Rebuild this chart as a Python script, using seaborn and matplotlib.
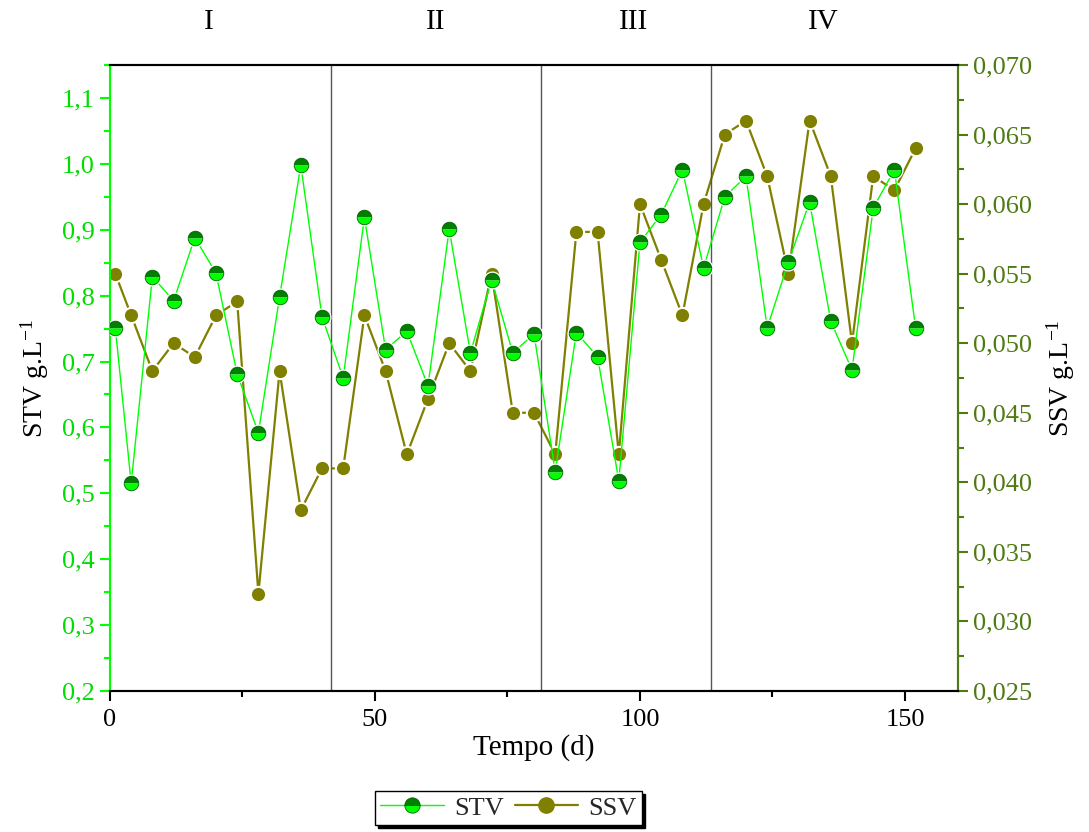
import numpy as np
import pandas as pd
import matplotlib
matplotlib.use("Agg")
import matplotlib.pyplot as plt
import seaborn as sns
from matplotlib.ticker import FuncFormatter, MultipleLocator
from matplotlib.lines import Line2D

# ---- data ----
tempo = [1, 4, 8, 12, 16, 20, 24, 28, 32, 36, 40, 44, 48, 52, 56, 60, 64, 68, 72, 76,
         80, 84, 88, 92, 96, 100, 104, 108, 112, 116, 120, 124, 128, 132, 136, 140,
         144, 148, 152]
stv = [0.751, 0.515, 0.829, 0.792, 0.888, 0.834, 0.681, 0.592, 0.798, 0.998, 0.768,
       0.675, 0.919, 0.718, 0.746, 0.663, 0.901, 0.713, 0.824, 0.713, 0.742,
       0.533, 0.744, 0.707, 0.519, 0.881, 0.923, 0.991, 0.842, 0.950,
       0.981, 0.751, 0.851, 0.942, 0.761, 0.687, 0.933, 0.991, 0.751]
ssv = [0.055, 0.052, 0.048, 0.050, 0.049, 0.052, 0.053, 0.032, 0.048, 0.038, 0.041,
       0.041, 0.052, 0.048, 0.042, 0.046, 0.050, 0.048, 0.055, 0.045, 0.045,
       0.042, 0.058, 0.058, 0.042, 0.060, 0.056, 0.052, 0.060, 0.065,
       0.066, 0.062, 0.055, 0.066, 0.062, 0.050, 0.062, 0.061, 0.064]
phase_bounds = [41.7, 81.3, 113.4]
phase_labels = ["I", "II", "III", "IV"]
phase_label_x = [18.7, 61.5, 98.7, 134.5]

df = pd.DataFrame({"Tempo": tempo, "STV": stv, "SSV": ssv})

sns.set_theme(style="ticks")
plt.rcParams["font.family"] = ["Liberation Serif", "DejaVu Serif"]
plt.rcParams["mathtext.fontset"] = "stix"

GREEN = "#00ff00"
GREEN_LBL = "#00dd00"
DKGREEN = "#007f00"
OLIVE = "#808000"
OLIVE_AX = "#4f7a14"

fig = plt.figure(figsize=(10.89, 8.32), dpi=100)
ax = fig.add_axes([0.101, 0.1695, 0.7787, 0.7524])
ax2 = ax.twinx()

# SSV (right axis)
sns.lineplot(data=df, x="Tempo", y="SSV", ax=ax2, color=OLIVE, linewidth=1.6,
             marker="o", markersize=11, markerfacecolor=OLIVE,
             markeredgecolor="white", markeredgewidth=1.5)

# STV (left axis): line, white gap, half-filled marker, thin outline
sns.lineplot(data=df, x="Tempo", y="STV", ax=ax, color=GREEN, linewidth=1.0)
ax.plot(df["Tempo"], df["STV"], linestyle="none", marker="o", markersize=13,
        markerfacecolor="white", markeredgewidth=0, zorder=3)
ax.plot(df["Tempo"], df["STV"], linestyle="none", marker="o", markersize=10.5,
        fillstyle="top", markerfacecolor=DKGREEN, markerfacecoloralt=GREEN,
        markeredgewidth=0, zorder=4)
ax.plot(df["Tempo"], df["STV"], linestyle="none", marker="o", markersize=10.5,
        markerfacecolor="none", markeredgecolor="#006400", markeredgewidth=0.6,
        zorder=5)

for xb in phase_bounds:
    ax.axvline(xb, color="#555555", linewidth=1.0, zorder=0)

# axes limits
ax.set_xlim(0, 160)
ax.set_ylim(0.2, 1.15)
ax2.set_ylim(0.025, 0.070)

# ticks
ax.xaxis.set_major_locator(MultipleLocator(50))
ax.xaxis.set_minor_locator(MultipleLocator(25))
ax.yaxis.set_major_locator(MultipleLocator(0.1))
ax.yaxis.set_minor_locator(MultipleLocator(0.05))
ax2.yaxis.set_major_locator(MultipleLocator(0.005))
ax2.yaxis.set_minor_locator(MultipleLocator(0.0025))

ax.xaxis.set_major_formatter(FuncFormatter(lambda v, p: f"{v:.0f}"))
ax.yaxis.set_major_formatter(FuncFormatter(lambda v, p: f"{v:.1f}".replace(".", ",")))
ax2.yaxis.set_major_formatter(FuncFormatter(lambda v, p: f"{v:.3f}".replace(".", ",")))

TS = 19
ax.tick_params(axis="x", which="major", direction="out", length=7, width=1.5,
               labelsize=TS, color="black", labelcolor="black", pad=6)
ax.tick_params(axis="x", which="minor", direction="out", length=4, width=1.5, color="black")
ax.tick_params(axis="y", which="major", direction="out", length=7, width=1.5,
               labelsize=TS, color=GREEN, labelcolor=GREEN_LBL, pad=4)
ax.tick_params(axis="y", which="minor", direction="out", length=4, width=1.5, color=GREEN)
ax2.tick_params(axis="y", which="major", direction="out", length=7, width=1.5,
                labelsize=TS, color=OLIVE_AX, labelcolor=OLIVE_AX, pad=4)
ax2.tick_params(axis="y", which="minor", direction="out", length=4, width=1.5, color=OLIVE_AX)

for a in (ax, ax2):
    for s in a.spines.values():
        s.set_visible(True)
        s.set_linewidth(1.5)
    a.spines["top"].set_color("black")
    a.spines["bottom"].set_color("black")
    a.spines["left"].set_color(GREEN)
    a.spines["right"].set_color(OLIVE_AX)
ax2.spines["left"].set_visible(False)

ax.set_xlabel("Tempo (d)", fontsize=21, color="black", labelpad=2)
ax.set_ylabel(r"STV g.L$^{\mathregular{-1}}$", fontsize=20, color="black", labelpad=8)
ax2.set_ylabel(r"SSV g.L$^{\mathregular{-1}}$", fontsize=20, color="black", labelpad=8)

trans = matplotlib.transforms.blended_transform_factory(ax.transData, fig.transFigure)
for lbl, xp in zip(phase_labels, phase_label_x):
    ax.text(xp, 0.974, lbl, transform=trans, ha="center", va="center", fontsize=21,
            color="black")

h1 = Line2D([], [], color=GREEN, linewidth=1.0, marker="o", markersize=11,
            fillstyle="top", markerfacecolor=DKGREEN, markerfacecoloralt=GREEN,
            markeredgecolor="#006400", markeredgewidth=0.6)
h2 = Line2D([], [], color=OLIVE, linewidth=1.6, marker="o", markersize=11,
            markerfacecolor=OLIVE, markeredgecolor=OLIVE)
leg = fig.legend([h1, h2], ["STV", "SSV"], loc="center", bbox_to_anchor=(0.467, 0.029),
                 ncol=2, fontsize=19, frameon=True, fancybox=False, edgecolor="black",
                 shadow={"color": "black", "alpha": 1.0}, handlelength=2.4,
                 columnspacing=0.4, handletextpad=0.4, borderpad=0.2,
                 borderaxespad=0)
leg.get_frame().set_linewidth(1.0)

ax.set_zorder(ax2.get_zorder() + 1)
ax.patch.set_visible(False)

fig.savefig("out.png", dpi=100)
